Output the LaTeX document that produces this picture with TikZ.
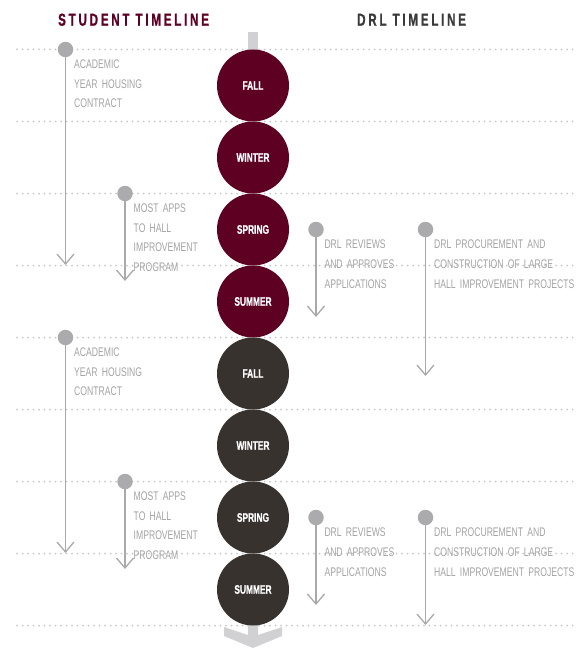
\documentclass[tikz,border=0pt]{standalone}
\usepackage{fontspec}
\setmainfont{Liberation Sans}
\newfontfamily\bodyf[FakeStretch=0.69]{Liberation Sans}
\newfontfamily\boldf[FakeStretch=0.68,FakeBold=0.6]{Liberation Sans Bold}
\newfontfamily\titlef[FakeStretch=0.67,FakeBold=0.8,LetterSpace=16]{Liberation Sans Bold}
\newcommand\mylabfont{\bodyf\fontsize{12.5}{19.8}\selectfont\spaceskip 3.2pt\relax}
\usetikzlibrary{arrows.meta}
\definecolor{maroon}{HTML}{5E0022}
\definecolor{darkc}{HTML}{37322E}
\definecolor{dotc}{HTML}{ABABAE}
\definecolor{linec}{HTML}{A9A9A9}
\definecolor{txtc}{HTML}{A3A3A3}
\definecolor{dottedc}{HTML}{C8C8C8}
\definecolor{shaftc}{HTML}{D1D1D3}
\definecolor{titletwo}{HTML}{3A3A3A}
\tikzset{
  dotline/.style={draw=dottedc,line width=2pt,line cap=round,dash pattern=on 0pt off 5.5pt},
  season/.style={circle,fill=#1,minimum size=72pt,inner sep=0pt,text=white,font=\boldf\fontsize{12.3}{12}\selectfont},
  tdot/.style={circle,fill=dotc,minimum size=15.5pt,inner sep=0pt},
  conn/.style={draw=linec,line width=1.3pt,-{Straight Barb[length=10pt,width=17pt,line width=1.3pt]}},
  lab/.style={anchor=base west,inner sep=0pt,text width=200pt,align=left,text=txtc,font=\mylabfont},
  ttl/.style={anchor=base west,inner sep=0pt,font=\titlef\fontsize{17.3}{18}\selectfont}
}
\begin{document}
\begin{tikzpicture}[x=1pt,y=-1pt]
\useasboundingbox (0,0) rectangle (583,650);
% titles
\node[ttl,text=maroon] (t1) at (58,25.7) {STUDENT TIMELINE};
\node[ttl,text=titletwo] (t2) at (357,25.7) {DRL TIMELINE};
% dotted lines
\foreach \y in {49.5,121.5,193.5,265.5,337.5,409.5,481.5,553.5,625.5}
  \draw[dotline] (17,\y) -- (575,\y);
% central shaft and bottom chevron
\fill[shaftc] (248,32) rectangle (258,54);
\fill[shaftc] (224,627) -- (248,635) -- (248,620) -- (258,620) -- (258,635) -- (282,627) -- (282,636) -- (253,648) -- (224,636) -- cycle;
% seasons
\node[season=maroon] (c1) at (253,85.5) {FALL};
\node[season=maroon] (c2) at (253,157.5) {WINTER};
\node[season=maroon] (c3) at (253,229.5) {SPRING};
\node[season=maroon] (c4) at (253,301.5) {SUMMER};
\node[season=darkc] (c5) at (253,373.5) {FALL};
\node[season=darkc] (c6) at (253,445.5) {WINTER};
\node[season=darkc] (c7) at (253,517.5) {SPRING};
\node[season=darkc] (c8) at (253,589.5) {SUMMER};
% group 1
\coordinate (a1e) at (65.5,265);
\coordinate (b1e) at (125,281);
\coordinate (d1e) at (316,317);
\coordinate (e1e) at (425.5,376);
\draw[conn] (65.5,49.5) -- (a1e);
\draw[conn] (125,193.5) -- (b1e);
\draw[conn] (316,229.5) -- (d1e);
\draw[conn] (425.5,229.5) -- (e1e);
\node[tdot] (a1) at (65.5,49.5) {};
\node[tdot] (b1) at (125,193.5) {};
\node[tdot] (d1) at (316,229.5) {};
\node[tdot] (e1) at (425.5,229.5) {};
\node[lab] (la1) at (74,68.3) {ACADEMIC\\YEAR HOUSING\\CONTRACT};
\node[lab] (lb1) at (133.5,212.3) {MOST APPS\\TO HALL\\IMPROVEMENT\\PROGRAM};
\node[lab] (ld1) at (324.3,248.7) {DRL REVIEWS\\AND APPROVES\\APPLICATIONS};
\node[lab] (le1) at (434,248.7) {DRL PROCUREMENT AND\\CONSTRUCTION OF LARGE\\HALL IMPROVEMENT PROJECTS};
% group 2
\coordinate (a2e) at (65.5,553);
\coordinate (b2e) at (125,569);
\coordinate (d2e) at (316,605);
\coordinate (e2e) at (425.5,625);
\draw[conn] (65.5,337.5) -- (a2e);
\draw[conn] (125,481.5) -- (b2e);
\draw[conn] (316,517.5) -- (d2e);
\draw[conn] (425.5,517.5) -- (e2e);
\node[tdot] (a2) at (65.5,337.5) {};
\node[tdot] (b2) at (125,481.5) {};
\node[tdot] (d2) at (316,517.5) {};
\node[tdot] (e2) at (425.5,517.5) {};
\node[lab] (la2) at (74,356.3) {ACADEMIC\\YEAR HOUSING\\CONTRACT};
\node[lab] (lb2) at (133.5,500.3) {MOST APPS\\TO HALL\\IMPROVEMENT\\PROGRAM};
\node[lab] (ld2) at (324.3,536.7) {DRL REVIEWS\\AND APPROVES\\APPLICATIONS};
\node[lab] (le2) at (434,536.7) {DRL PROCUREMENT AND\\CONSTRUCTION OF LARGE\\HALL IMPROVEMENT PROJECTS};
\end{tikzpicture}
\end{document}
